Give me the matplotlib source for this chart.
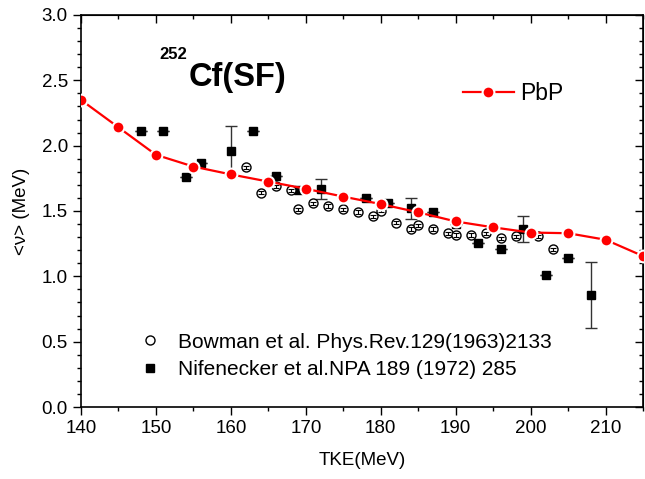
import numpy as np
import matplotlib
matplotlib.use("Agg")
import matplotlib.pyplot as plt
from matplotlib.ticker import MultipleLocator, FormatStrFormatter

plt.rcParams['font.family'] = ['Liberation Sans', 'DejaVu Sans']

# PbP calculation
pbp_tke = [140, 145, 150, 155, 160, 165, 170, 175, 180, 185, 190, 195, 200, 205, 210, 215]
pbp_nu = [2.35, 2.14, 1.93, 1.84, 1.78, 1.725, 1.67, 1.61, 1.553, 1.49, 1.42, 1.375, 1.335, 1.33, 1.28, 1.155]

# Bowman et al. (open circles)
bow_tke = [162, 164, 166, 168, 169, 171, 173, 175, 177, 179, 180, 182, 184, 185, 187, 189, 190, 192, 194, 196, 198, 201, 203]
bow_nu = [1.834, 1.64, 1.69, 1.66, 1.512, 1.56, 1.538, 1.512, 1.492, 1.461, 1.502, 1.41, 1.362, 1.392, 1.362,
          1.329, 1.316, 1.316, 1.329, 1.29, 1.308, 1.308, 1.207]

# Nifenecker et al. (filled squares)
nif_tke = [148, 151, 154, 156, 160, 163, 166, 169, 172, 175, 178, 181, 184, 187, 190, 193, 196, 199, 202, 205, 208]
nif_nu = [2.11, 2.11, 1.76, 1.864, 1.96, 2.11, 1.767, 1.66, 1.668, 1.61, 1.597, 1.563, 1.52, 1.494, 1.40,
          1.257, 1.207, 1.362, 1.008, 1.138, 0.857]
nif_err = [0, 0, 0, 0, 0.19, 0, 0, 0, 0.075, 0, 0, 0, 0.08, 0, 0, 0, 0, 0.1, 0, 0, 0.25]

fs_tick = 13.5
fs_leg = 15

fig = plt.figure(figsize=(6.45, 4.79), dpi=100)
ax = fig.add_axes([0.1256, 0.1503, 0.8714, 0.8184])

# Nifenecker: grey error bars under black squares
ax.errorbar(nif_tke, nif_nu, yerr=nif_err, fmt='none', ecolor='#333333', elinewidth=1, capsize=4, capthick=1, zorder=2)
h_nif, = ax.plot(nif_tke, nif_nu, 's', color='black', markersize=5.5, zorder=3,
                 label='Nifenecker et al.NPA 189 (1972) 285')
# Bowman: open circles with tiny error bars drawn on top
h_bow, = ax.plot(bow_tke, bow_nu, 'o', mfc='white', mec='black', mew=1, markersize=6.5, zorder=3,
                 label='Bowman et al. Phys.Rev.129(1963)2133')
ax.errorbar(bow_tke, bow_nu, yerr=0.012, fmt='none', ecolor='black', elinewidth=0.8, capsize=2, capthick=0.8, zorder=3.5)
# PbP
h_pbp, = ax.plot(pbp_tke, pbp_nu, '-o', color='red', lw=1.6, markersize=8.5, mec='white', mew=1.5, zorder=4,
                 label='PbP')

ax.set_xlim(140, 215)
ax.set_ylim(0, 3.0)
ax.xaxis.set_major_locator(MultipleLocator(10))
ax.xaxis.set_minor_locator(MultipleLocator(5))
ax.yaxis.set_major_locator(MultipleLocator(0.5))
ax.yaxis.set_minor_locator(MultipleLocator(0.1))
ax.yaxis.set_major_formatter(FormatStrFormatter('%.1f'))
ax.tick_params(which='major', direction='out', length=6, width=1, labelsize=fs_tick)
ax.tick_params(which='minor', direction='out', length=3, width=1)
for s in ax.spines.values():
    s.set_linewidth(1.2)

# mirrored ticks pointing inward on top and right
top = ax.secondary_xaxis('top')
top.xaxis.set_major_locator(MultipleLocator(10))
top.xaxis.set_minor_locator(MultipleLocator(5))
top.tick_params(which='major', direction='in', length=6, width=1, labeltop=False)
top.tick_params(which='minor', direction='in', length=3, width=1)
right = ax.secondary_yaxis('right')
right.yaxis.set_major_locator(MultipleLocator(0.5))
right.yaxis.set_minor_locator(MultipleLocator(0.1))
right.tick_params(which='major', direction='in', length=6, width=1, labelright=False)
right.tick_params(which='minor', direction='in', length=3, width=1)

ax.set_xlabel('TKE(MeV)', fontsize=fs_tick, labelpad=11)
ax.set_ylabel('<ν> (MeV)', fontsize=fs_tick, labelpad=8)

# title-like label inside the plot
ax.text(154.3, 2.46, 'Cf(SF)', fontsize=23.5, fontweight='bold', ha='left', va='baseline')
ax.text(154.2, 2.66, '252', fontsize=12, fontweight='bold', ha='right', va='baseline')

leg1 = ax.legend(handles=[h_pbp], loc='center left', bbox_to_anchor=(0.68, 0.80), frameon=False, fontsize=16.5,
                 handlelength=2.2, handletextpad=0.3, borderpad=0, borderaxespad=0)
ax.add_artist(leg1)
ax.legend(handles=[h_bow, h_nif], loc='upper left', bbox_to_anchor=(0.105, 0.19), frameon=False, fontsize=fs_leg,
          handlelength=1.0, handletextpad=0.8, labelspacing=0.4, borderpad=0, borderaxespad=0)

fig.savefig('out.png', dpi=100)
